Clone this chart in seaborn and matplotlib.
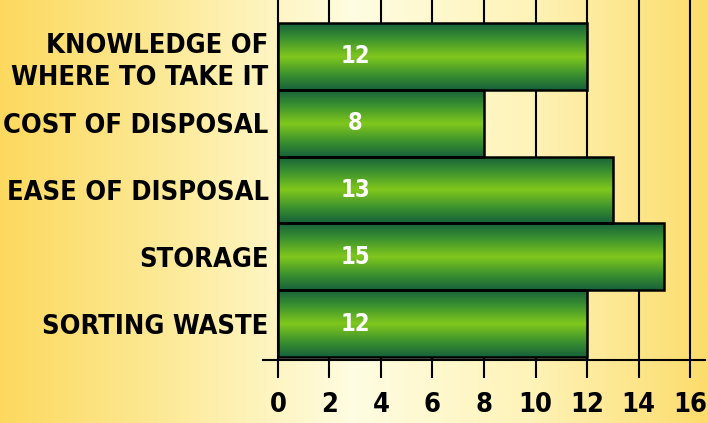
import numpy as np
import pandas as pd
import matplotlib
matplotlib.use("Agg")
import matplotlib.pyplot as plt
import seaborn as sns
from matplotlib.colors import LinearSegmentedColormap

categories = [
    "KNOWLEDGE OF\nWHERE TO TAKE IT",
    "COST OF DISPOSAL",
    "EASE OF DISPOSAL",
    "STORAGE",
    "SORTING WASTE",
]
values = [12, 8, 13, 15, 12]
x_ticks = [0, 2, 4, 6, 8, 10, 12, 14, 16]

sns.set_theme(style="white")
plt.rcParams["font.family"] = ["DejaVu Sans"]
plt.rcParams["font.weight"] = "bold"
plt.rcParams["font.stretch"] = "condensed"

fig = plt.figure(figsize=(7.08, 4.23), dpi=100)

# yellow background, light in the middle
bg = fig.add_axes([0, 0, 1, 1], zorder=0)
bg_cmap = LinearSegmentedColormap.from_list(
    "bg",
    [(0.0, "#fcd95e"), (0.25, "#fdeb9c"), (0.5, "#fffde2"), (0.75, "#fef3b8"), (1.0, "#fcdc6c")],
)
bg.imshow(np.linspace(0, 1, 512)[None, :], aspect="auto", cmap=bg_cmap, extent=[0, 1, 0, 1])
bg.axis("off")

ax = fig.add_axes([263 / 708, 63 / 423, 442 / 708, 360 / 423], zorder=1)
ax.patch.set_alpha(0)

df = pd.DataFrame({"factor": categories, "count": values})
sns.barplot(
    data=df, x="count", y="factor", orient="h", width=1.0,
    color="#4a9a2a", edgecolor="black", linewidth=1.8, ax=ax,
)

# vertical green gradient inside each bar
bar_cmap = LinearSegmentedColormap.from_list(
    "bar",
    [(0.0, "#16613a"), (0.22, "#3a8f30"), (0.5, "#80c71c"), (0.78, "#3a8f30"), (1.0, "#16613a")],
)
grad = np.linspace(0, 1, 256)[:, None]
for p in ax.patches:
    x0, y0 = p.get_x(), p.get_y()
    w, h = p.get_width(), p.get_height()
    im = ax.imshow(grad, aspect="auto", cmap=bar_cmap, extent=[x0, x0 + w, y0 + h, y0], zorder=2)
    im.set_clip_path(p)
    p.set_facecolor("none")
    p.set_zorder(3)

for i, v in enumerate(values):
    ax.text(3, i, str(v), color="white", ha="center", va="center", fontsize=17, fontweight="bold", zorder=4)

ax.set_xlim(-0.58, 16.58)
ax.set_ylim(4.545, -0.844)
ax.set_xticks(x_ticks)
ax.set_xlabel("")
ax.set_ylabel("")

ax.grid(axis="x", color="black", linewidth=1.5)
ax.grid(axis="y", visible=False)
ax.set_axisbelow(True)

for side in ["left", "top", "right"]:
    ax.spines[side].set_visible(False)
ax.spines["bottom"].set_color("black")
ax.spines["bottom"].set_linewidth(1.5)

ax.tick_params(axis="x", bottom=True, length=13, width=1.5, color="black", pad=10, labelsize=19.5, labelcolor="black")
ax.tick_params(axis="y", left=False, length=0, pad=-4, labelsize=19.5, labelcolor="black")
for lab in ax.get_yticklabels():
    lab.set_linespacing(1.3)

fig.savefig("out.png", dpi=100)
